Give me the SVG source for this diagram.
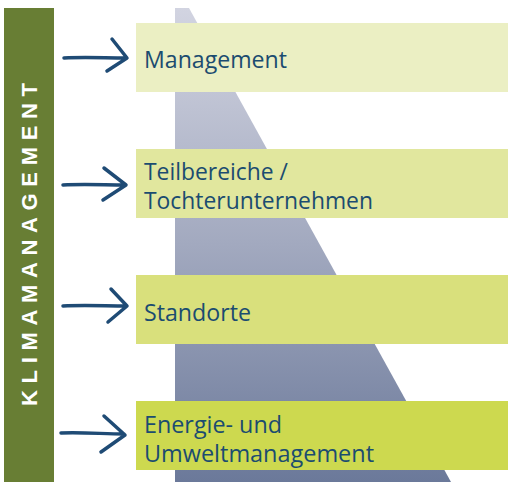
<svg xmlns="http://www.w3.org/2000/svg" width="508" height="482" viewBox="0 0 508 482">
  <defs>
    <linearGradient id="pyr" x1="0" y1="8" x2="0" y2="482" gradientUnits="userSpaceOnUse">
      <stop offset="0" stop-color="#d2d4e1"/>
      <stop offset="0.5" stop-color="#a2a9bf"/>
      <stop offset="1" stop-color="#6b799a"/>
    </linearGradient>
  </defs>
  <style>
    .lbl { font-family: "Open Sans", "Noto Sans", "Liberation Sans", sans-serif; font-size: 23px; fill: #1b4c70; }
    .bar { font-family: "Liberation Sans", "DejaVu Sans", sans-serif; font-size: 22px; font-weight: bold; fill: #ffffff; }
    .arr { fill: none; stroke: #1f4b75; stroke-width: 3.5; stroke-linecap: round; stroke-linejoin: round; }
  </style>
  <rect width="508" height="482" fill="#ffffff"/>
  <polygon points="175,8 189,8 451,482 175,482" fill="url(#pyr)"/>
  <g id="klimamanagement">
    <rect x="4" y="8" width="50" height="474" fill="#687e34"/>
    <text class="bar" transform="translate(37,406) rotate(-90)" x="0" y="0" textLength="323" lengthAdjust="spacing">KLIMAMANAGEMENT</text>
  </g>
  <g id="management">
    <rect x="136" y="23" width="372" height="69" fill="#ebefc3"/>
    <text class="lbl" x="144" y="68" textLength="143" lengthAdjust="spacingAndGlyphs">Management</text>
  </g>
  <g id="teilbereiche">
    <rect x="136" y="149" width="372" height="69" fill="#e1e79e"/>
    <text class="lbl" x="144" y="180" textLength="144" lengthAdjust="spacingAndGlyphs">Teilbereiche /</text>
    <text class="lbl" x="144" y="209" textLength="229" lengthAdjust="spacingAndGlyphs">Tochterunternehmen</text>
  </g>
  <g id="standorte">
    <rect x="136" y="275" width="372" height="69" fill="#d9e07c"/>
    <text class="lbl" x="144" y="321" textLength="107" lengthAdjust="spacingAndGlyphs">Standorte</text>
  </g>
  <g id="energie">
    <rect x="136" y="401" width="372" height="69" fill="#cdd94f"/>
    <text class="lbl" x="144" y="433" textLength="138" lengthAdjust="spacingAndGlyphs">Energie- und</text>
    <text class="lbl" x="144" y="462" textLength="230" lengthAdjust="spacingAndGlyphs">Umweltmanagement</text>
  </g>
  <g id="connectors">
    <path class="arr" d="M64,58 C85,57 105,58 126,58 M112,39 L127,58 L107,71"/>
    <path class="arr" d="M63,185 C84,184 105,185 125,185 M104,168 L126,185 L103,200"/>
    <path class="arr" d="M63,306 C84,305 106,306 126,306 M111,289 L127,306 L108,322"/>
    <path class="arr" d="M61,433 C82,432 104,434 124,434 M104,416 L125,435 L101,452"/>
  </g>
</svg>
